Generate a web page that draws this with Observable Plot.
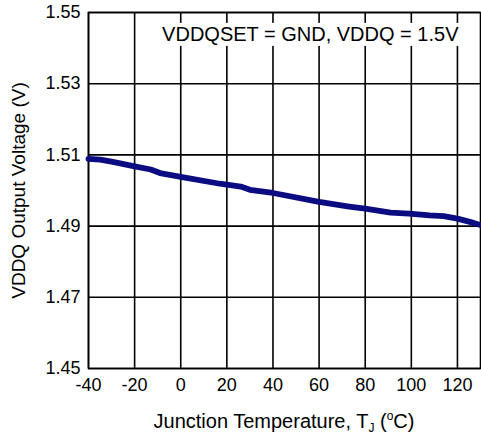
<!DOCTYPE html>
<html>
<head>
<meta charset="utf-8">
<script src="https://cdn.jsdelivr.net/npm/d3@7"></script>
<script src="https://cdn.jsdelivr.net/npm/@observablehq/plot@0.6"></script>
<style>
  html, body { margin: 0; padding: 0; background: #fff; }
  #chart { width: 481px; height: 439px; }
</style>
</head>
<body>
<div id="chart"></div>
<script>
// Junction temperature (°C)
const temps = [-40, -35, -30, -20, -13, -9, 0, 17, 26, 30, 40, 60, 73, 80, 91, 99, 108, 114, 120, 127, 130];
// VDDQ output voltage (V)
const volts = [1.5089, 1.5087, 1.5081, 1.5068, 1.5059, 1.5049, 1.5038, 1.5019, 1.5011, 1.5002, 1.4993, 1.4968, 1.4955, 1.4949, 1.4938, 1.4935, 1.4930, 1.4928, 1.4921, 1.4909, 1.4903];

const xTicks = [-40, -20, 0, 20, 40, 60, 80, 100, 120];
const yTicks = [1.45, 1.47, 1.49, 1.51, 1.53, 1.55];
const annotation = ["VDDQSET = GND, VDDQ = 1.5V"];
const yLabel = ["VDDQ Output Voltage (V)"];

const data = temps.map((t, i) => ({t, v: volts[i]}));

const plot = Plot.plot({
  width: 481,
  height: 439,
  marginLeft: 88,
  marginTop: 12,
  marginRight: 1,
  marginBottom: 71,
  style: {fontFamily: "'Liberation Sans', Arial, sans-serif", fontSize: "18px", color: "#000", background: "#fff"},
  x: {domain: [-40, 130]},
  y: {domain: [1.45, 1.55]},
  marks: [
    Plot.ruleX(xTicks, {stroke: "#000", strokeWidth: 1.6}),
    Plot.ruleY(yTicks, {stroke: "#000", strokeWidth: 1.6}),
    Plot.frame({stroke: "#000", strokeWidth: 1.6}),
    Plot.axisX({ticks: xTicks, tickSize: 0, tickPadding: 10, label: null, fontSize: 18, tickFormat: d => String(d)}),
    Plot.axisY({ticks: yTicks, tickSize: 0, tickPadding: 8, label: null, fontSize: 18, tickFormat: d3.format(".2f")}),
    Plot.text(yLabel, {frameAnchor: "left", dx: -70, rotate: -90, textAnchor: "middle", fontSize: 19, fill: "#000"}),
    Plot.text(annotation, {frameAnchor: "top-right", dx: -22, dy: 22, textAnchor: "end", lineAnchor: "middle", fontSize: 20, fill: "#000"}),
    Plot.line(data, {x: "t", y: "v", stroke: "#0b0b82", strokeWidth: 5.8})
  ]
});

document.getElementById("chart").appendChild(plot);

// white box behind the annotation text
const svgNode = plot;
for (const t of svgNode.querySelectorAll("text")) {
  if (t.textContent.trim() === annotation[0]) {
    let top = t;
    while (top.parentNode && top.parentNode !== svgNode) top = top.parentNode;
    const r = t.getBoundingClientRect();
    const s = svgNode.getBoundingClientRect();
    const rect = document.createElementNS("http://www.w3.org/2000/svg", "rect");
    rect.setAttribute("x", r.left - s.left - 7);
    rect.setAttribute("y", r.top - s.top);
    rect.setAttribute("width", r.width + 14);
    rect.setAttribute("height", r.height + 1);
    rect.setAttribute("fill", "#fff");
    svgNode.insertBefore(rect, top);
  }
}

// x-axis title with subscript and superscript
const svg = d3.select(plot);
const xs = plot.scale("x");
const xMid = (xs.range[0] + xs.range[1]) / 2;
const title = svg.append("text")
  .attr("x", xMid).attr("y", 428)
  .attr("text-anchor", "middle")
  .attr("font-size", 20)
  .attr("fill", "#000");
title.append("tspan").text("Junction Temperature, T");
title.append("tspan").attr("font-size", 12).attr("dy", 4).text("J");
title.append("tspan").attr("dy", -4).text(" (");
title.append("tspan").attr("font-size", 12).attr("dy", -8).text("o");
title.append("tspan").attr("dy", 8).text("C)");
</script>
</body>
</html>
